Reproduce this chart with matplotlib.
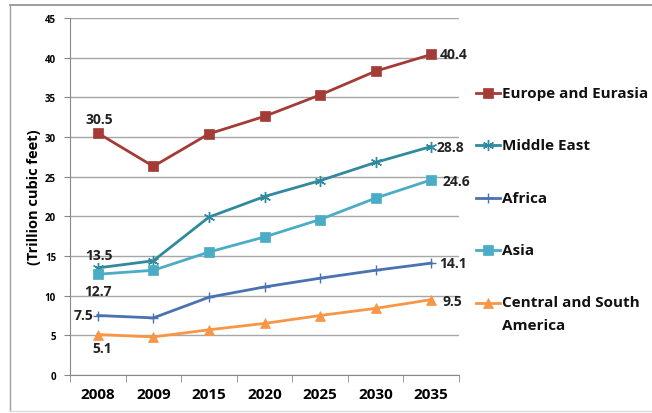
import matplotlib
matplotlib.use("Agg")
import matplotlib.pyplot as plt
from matplotlib.lines import Line2D

years = ["2008", "2009", "2015", "2020", "2025", "2030", "2035"]
europe = [30.5, 26.3, 30.4, 32.6, 35.3, 38.3, 40.4]
middle_east = [13.5, 14.4, 19.9, 22.5, 24.5, 26.8, 28.8]
africa = [7.5, 7.2, 9.8, 11.1, 12.2, 13.2, 14.1]
asia = [12.7, 13.2, 15.5, 17.4, 19.6, 22.3, 24.6]
central_south = [5.1, 4.8, 5.7, 6.5, 7.5, 8.4, 9.5]

names = ["Europe and Eurasia", "Middle East", "Africa", "Asia",
         "Central and South\nAmerica"]
series = [europe, middle_east, africa, asia, central_south]
colors = ["#A33B36", "#31899E", "#4A72B0", "#4BACC6", "#F79646"]
markers = ["s", (6, 2, 0), "+", "s", "^"]
msizes = [7, 8, 7, 7, 7]

plt.rcParams["font.family"] = ["Open Sans", "DejaVu Sans"]

fig = plt.figure(figsize=(6.52, 4.14), dpi=100)
ax = fig.add_axes([70 / 652, 38 / 414, 389 / 652, 357 / 414])

x = list(range(len(years)))
for vals, col, mk, ms in zip(series, colors, markers, msizes):
    thin = not isinstance(mk, str) or mk == "+"
    ax.plot(x, vals, color=col, lw=2, marker=mk, markersize=ms,
            markeredgewidth=1.0 if thin else 0.5, zorder=3)

ax.set_xlim(-0.5, len(years) - 0.5)
ax.set_ylim(0, 45)
ax.set_yticks(range(0, 46, 5))
ax.set_xticks(x)
ax.set_xticklabels(years, fontsize=11, fontweight="bold")
ax.set_xticks([i - 0.5 for i in range(len(years) + 1)], minor=True)
ax.tick_params(axis="x", which="major", length=0, pad=9)
ax.tick_params(axis="x", which="minor", length=5, color="#888888")
ax.tick_params(axis="y", length=4, color="#888888", labelsize=7, pad=6)
for t in ax.get_yticklabels():
    t.set_fontweight("bold")
ax.grid(axis="y", color="#A6A6A6", lw=1)
ax.set_axisbelow(True)
for s in ["top", "right"]:
    ax.spines[s].set_visible(False)
ax.spines["left"].set_color("#888888")
ax.spines["bottom"].set_color("#888888")
ax.set_ylabel("(Trillion cubic feet)", fontsize=10.5, fontweight="bold", labelpad=3)

lab = dict(fontsize=10, fontweight="bold", color="#222222")
ax.annotate(f"{europe[0]}", (0, europe[0]), xytext=(1, 5), textcoords="offset points", ha="center", va="bottom", **lab)
ax.annotate(f"{europe[-1]}", (6, europe[-1]), xytext=(6, 0), textcoords="offset points", ha="left", va="center", **lab)
ax.annotate(f"{middle_east[0]}", (0, middle_east[0]), xytext=(1, 4), textcoords="offset points", ha="center", va="bottom", **lab)
ax.annotate(f"{middle_east[-1]}", (6, middle_east[-1]), xytext=(4, 0), textcoords="offset points", ha="left", va="center", **lab)
ax.annotate(f"{asia[0]}", (0, asia[0]), xytext=(0, -7), textcoords="offset points", ha="center", va="top", **lab)
ax.annotate(f"{asia[-1]}", (6, asia[-1]), xytext=(8, -1), textcoords="offset points", ha="left", va="center", **lab)
ax.annotate(f"{africa[0]}", (0, africa[0]), xytext=(-3, 0), textcoords="offset points", ha="right", va="center", **lab)
ax.annotate(f"{africa[-1]}", (6, africa[-1]), xytext=(6, 0), textcoords="offset points", ha="left", va="center", **lab)
ax.annotate(f"{central_south[0]}", (0, central_south[0]), xytext=(3, -5), textcoords="offset points", ha="center", va="top", **lab)
ax.annotate(f"{central_south[-1]}", (6, central_south[-1]), xytext=(8, -1), textcoords="offset points", ha="left", va="center", **lab)

# legend entries placed by hand at the right
leg_y = [94, 146, 199, 251, 304]
for name, col, mk, ms, yy in zip(names, colors, markers, msizes, leg_y):
    yf = 1 - yy / 414
    thin = not isinstance(mk, str) or mk == "+"
    fig.add_artist(Line2D([476 / 652, 488 / 652, 500 / 652], [yf, yf, yf], color=col, lw=2,
                          marker=mk, markersize=ms, markevery=[1],
                          markeredgewidth=1.0 if thin else 0.5,
                          transform=fig.transFigure))
    multi = "\n" in name
    ty = 1 - (yy - 8) / 414 if multi else yf
    fig.text(502 / 652, ty, name, fontsize=11, fontweight="bold",
             ha="left", va="top" if multi else "center",
             color="#111111", linespacing=1.85)

# chart frame
fig.add_artist(Line2D([10 / 652, 1.0], [1 - 6 / 414] * 2, color="#8C8C8C", lw=1.2, transform=fig.transFigure))
fig.add_artist(Line2D([10 / 652, 10 / 652], [1 - 412 / 414, 1 - 6 / 414], color="#A0A0A0", lw=1, transform=fig.transFigure))
fig.add_artist(Line2D([10 / 652, 1.0], [1 - 412 / 414] * 2, color="#DDDDDD", lw=1, transform=fig.transFigure))

fig.savefig("out.png", dpi=100)
